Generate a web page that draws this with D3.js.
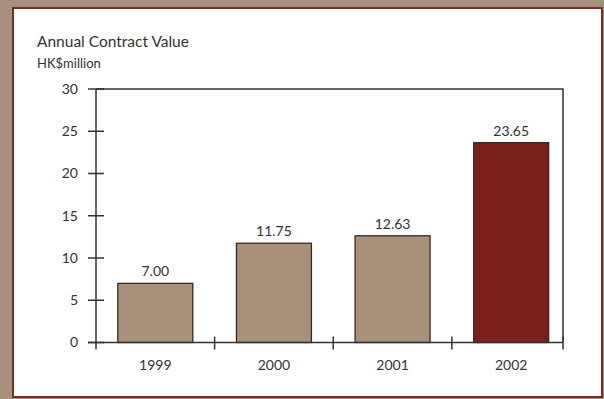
<!DOCTYPE html>
<html>
<head>
<meta charset="utf-8">
<script src="https://cdn.jsdelivr.net/npm/d3@7"></script>
<style>
  body { margin: 0; background: #a8917a; }
  svg { display: block; }
  text { font-family: "Lato", "Open Sans", sans-serif; fill: #333; }
</style>
</head>
<body>
<div id="chart"></div>
<script>
const years = ["1999", "2000", "2001", "2002"];
const values = [7.00, 11.75, 12.63, 23.65];
const valueLabels = ["7.00", "11.75", "12.63", "23.65"];
const yTicks = [0, 5, 10, 15, 20, 25, 30];

const W = 604, H = 399;
const svg = d3.select("#chart").append("svg").attr("width", W).attr("height", H);

// panel with red rule
svg.append("rect").attr("x", 0).attr("y", 0).attr("width", W).attr("height", H).attr("fill", "#a8917a");
svg.append("rect")
  .attr("x", 13).attr("y", 8).attr("width", 589).attr("height", 389)
  .attr("fill", "#fff").attr("stroke", "#7b2a24").attr("stroke-width", 2);

const plotL = 96, plotR = 563, plotT = 89, plotB = 342.5;

// bands run a bit past the right frame, as in the original
const x = d3.scaleBand().domain(years).range([plotL, 570.5])
  .paddingInner(0.368).paddingOuter(0.184);
const y = d3.scaleLinear().domain([0, 30]).range([plotB, plotT]);

const barColor = (d, i) => i === years.length - 1 ? "#7a1f1a" : "#a8907a";

// bars
svg.selectAll(".bar").data(values).enter().append("rect")
  .attr("class", "bar")
  .attr("x", (d, i) => x(years[i]))
  .attr("y", d => y(d))
  .attr("width", x.bandwidth())
  .attr("height", d => y(0) - y(d))
  .attr("fill", barColor)
  .attr("stroke", "#3a2a22")
  .attr("stroke-width", 1.3);

svg.selectAll(".value").data(values).enter().append("text")
  .attr("class", "value")
  .attr("x", (d, i) => x(years[i]) + x.bandwidth() / 2)
  .attr("y", d => y(d) - 7)
  .attr("text-anchor", "middle")
  .attr("font-size", 14)
  .text((d, i) => valueLabels[i]);

// frame: top and right lines
const axisColor = "#333";
svg.append("path")
  .attr("d", `M${plotL},${plotT}H${plotR}V${plotB}`)
  .attr("fill", "none").attr("stroke", axisColor).attr("stroke-width", 1.5);

// y axis
svg.append("line").attr("x1", plotL).attr("x2", plotL).attr("y1", plotT).attr("y2", plotB + 7)
  .attr("stroke", axisColor).attr("stroke-width", 1.5);
const yg = svg.selectAll(".ytick").data(yTicks).enter().append("g")
  .attr("transform", d => `translate(0,${y(d)})`);
yg.append("line").attr("x1", plotL - 8).attr("x2", plotL + 8)
  .attr("stroke", axisColor).attr("stroke-width", 1.5);
yg.append("text").attr("x", 78).attr("dy", "0.35em")
  .attr("text-anchor", "end").attr("font-size", 14).text(d => d);

// x axis
svg.append("line").attr("x1", plotL - 8).attr("x2", plotR).attr("y1", plotB).attr("y2", plotB)
  .attr("stroke", axisColor).attr("stroke-width", 1.5);
const step = x.step();
const bounds = years.slice(1).map(d => x(d) - step * x.paddingInner() / 2).concat([plotR]);
svg.selectAll(".xtick").data(bounds).enter().append("line")
  .attr("x1", d => d).attr("x2", d => d)
  .attr("y1", plotB - 6).attr("y2", plotB + 7)
  .attr("stroke", axisColor).attr("stroke-width", 1.5);
svg.selectAll(".xlabel").data(years).enter().append("text")
  .attr("x", d => x(d) + x.bandwidth() / 2)
  .attr("y", 370)
  .attr("text-anchor", "middle").attr("font-size", 14)
  .text(d => d);

// titles
svg.append("text").attr("x", 37).attr("y", 47).attr("font-size", 15.5).text("Annual Contract Value");
svg.append("text").attr("x", 37).attr("y", 68).attr("font-size", 13).text("HK$million");
</script>
</body>
</html>
